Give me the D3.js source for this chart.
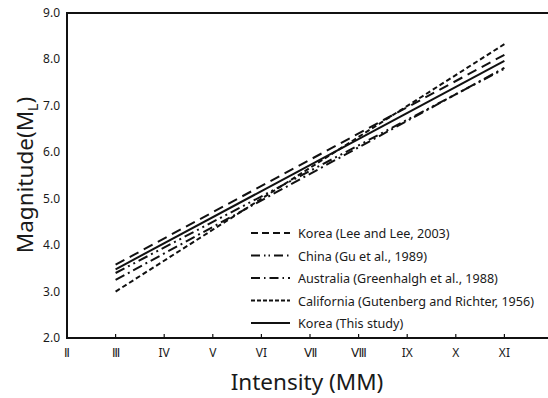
<!DOCTYPE html>
<html lang="en">
<head>
<meta charset="UTF-8">
<title>Magnitude vs Intensity</title>
<script src="https://d3js.org/d3.v7.min.js"></script>
<style>
    body { margin: 0; background: #fff; }
    svg text { font-family: "Noto Sans", sans-serif; fill: #1a1a1a; }
    .tick-label { font-size: 12px; }
    .legend text { font-size: 12.6px; }
    .axis-title { font-size: 22.5px; }
</style>
</head>
<body>
<svg id="chart" width="548" height="398"></svg>
<script>
    // Data: magnitude at intensity III and XI
    const intensityTicks = [2, 3, 4, 5, 6, 7, 8, 9, 10, 11];
    const intensityLabels = ["Ⅱ", "Ⅲ", "IV", "V", "VI", "Ⅶ", "Ⅷ", "IX", "X", "XI"];
    const magnitudeTicks = [2, 3, 4, 5, 6, 7, 8, 9];
    const lineEnds = [3, 11];

    const seriesNames = [
        "Korea (Lee and Lee, 2003)",
        "China (Gu et al., 1989)",
        "Australia (Greenhalgh et al., 1988)",
        "California (Gutenberg and Richter, 1956)",
        "Korea (This study)"
    ];
    const koreaLee = [3.58, 8.10];
    const china = [3.40, 7.80];
    const australia = [3.25, 7.82];
    const california = [3.00, 8.33];
    const koreaThis = [3.48, 7.97];

    const seriesValues = [koreaLee, china, australia, california, koreaThis];
    const plotDash = ["10,6", "10,4,2,4,2,4", "10,4,2,4", "5,3", null];
    const legendDash = ["7,4", "9,4,1.5,3,1.5,4", "9,4,1.5,4", "4,2", null];

    const svg = d3.select("#chart");
    const x = d3.scaleLinear().domain([2, 12]).range([67, 553]);
    const y = d3.scaleLinear().domain([2, 9]).range([338, 13]);

    // frame: left, bottom and top
    svg.append("line").attr("x1", x(2)).attr("x2", 548).attr("y1", y(9)).attr("y2", y(9))
        .attr("stroke", "#111").attr("stroke-width", 2);
    svg.append("line").attr("x1", x(2)).attr("x2", 548).attr("y1", y(2)).attr("y2", y(2))
        .attr("stroke", "#111").attr("stroke-width", 2);
    svg.append("line").attr("x1", x(2)).attr("x2", x(2)).attr("y1", y(9) - 1).attr("y2", y(2) + 1)
        .attr("stroke", "#111").attr("stroke-width", 2);

    // x ticks (small marks pointing up) and labels
    svg.selectAll(".xtick").data(intensityTicks.slice(1)).enter().append("line")
        .attr("x1", d => x(d)).attr("x2", d => x(d))
        .attr("y1", y(2)).attr("y2", y(2) - 4)
        .attr("stroke", "#111").attr("stroke-width", 1.2);
    svg.selectAll(".xlabel").data(intensityTicks).enter().append("text")
        .attr("class", "tick-label")
        .attr("x", d => x(d)).attr("y", 357)
        .attr("text-anchor", "middle")
        .text((d, i) => intensityLabels[i]);

    // y labels
    svg.selectAll(".ylabel").data(magnitudeTicks).enter().append("text")
        .attr("class", "tick-label")
        .attr("x", 60).attr("y", d => y(d) + 4)
        .attr("text-anchor", "end")
        .text(d => d.toFixed(1));

    // lines
    seriesValues.forEach((vals, i) => {
        svg.append("line")
            .attr("x1", x(lineEnds[0])).attr("y1", y(vals[0]))
            .attr("x2", x(lineEnds[1])).attr("y2", y(vals[1]))
            .attr("stroke", "#111").attr("stroke-width", 2)
            .attr("stroke-dasharray", plotDash[i]);
    });

    // legend
    const legend = svg.append("g").attr("class", "legend");
    seriesNames.forEach((name, i) => {
        const ly = 233 + i * 22.5;
        legend.append("line")
            .attr("x1", 251).attr("x2", 290).attr("y1", ly).attr("y2", ly)
            .attr("stroke", "#111").attr("stroke-width", 2)
            .attr("stroke-dasharray", legendDash[i]);
        legend.append("text")
            .attr("x", 298).attr("y", ly + 5)
            .text(name);
    });

    // axis titles
    svg.append("text").attr("class", "axis-title")
        .attr("x", 307).attr("y", 390).attr("text-anchor", "middle")
        .text("Intensity (MM)");

    const yt = svg.append("text").attr("class", "axis-title")
        .attr("transform", "translate(33,175) rotate(-90)")
        .attr("text-anchor", "middle");
    yt.append("tspan").text("Magnitude(M");
    yt.append("tspan").attr("font-size", "14px").attr("dy", 5).text("L");
    yt.append("tspan").attr("dy", -5).text(")");
</script>
</body>
</html>
